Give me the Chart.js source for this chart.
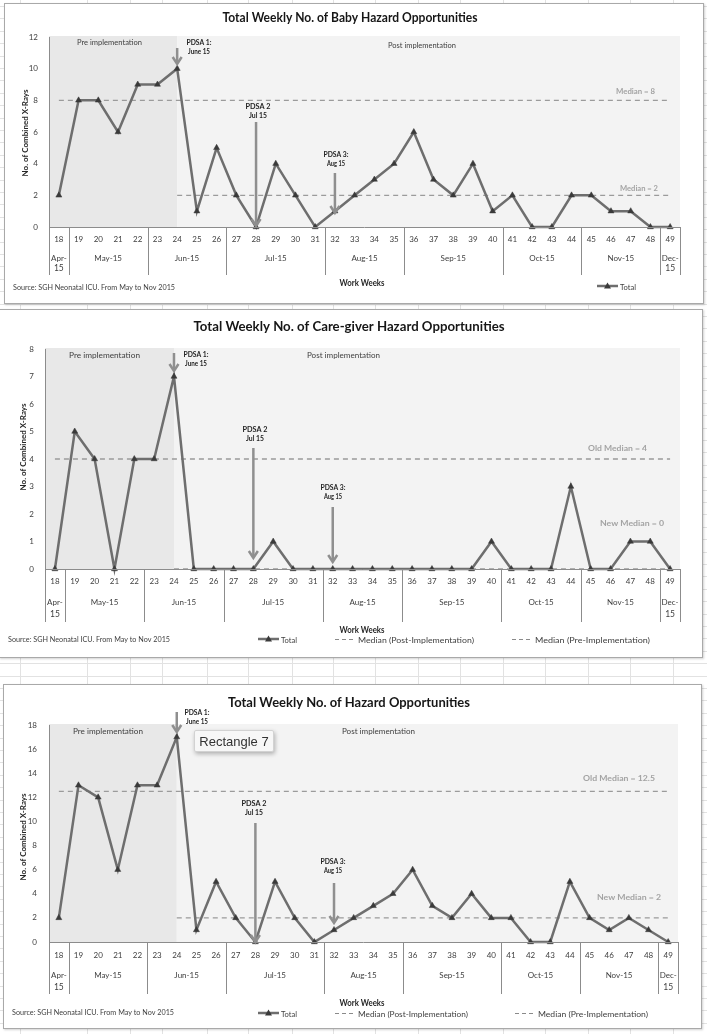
<!DOCTYPE html>
<html>
<head>
<meta charset="utf-8">
<script src="https://cdn.jsdelivr.net/npm/chart.js@4.4.1/dist/chart.umd.min.js"></script>
<style>
    html, body { margin: 0; padding: 0; background: #fff; }
    body { width: 707px; height: 1034px; position: relative; overflow: hidden; font-family: Lato, sans-serif; }
    .gl { position: absolute; background: #e2e2e2; }
    .box { position: absolute; background: #fff; border: 1px solid #a9a9a9; box-shadow: 1px 1px 2px rgba(0,0,0,0.18); }
    canvas.c { position: absolute; left: 0; }
    #rect7 {
        position: absolute; left: 194px; top: 730px; width: 80px; height: 22px;
        background: #f7f7f7; border: 1px solid #d2d2d2; border-radius: 2px;
        box-shadow: 1px 2px 4px rgba(0,0,0,0.28);
        font: 13px "Liberation Sans", Arial, sans-serif; color: #333;
        line-height: 22px; text-align: center; box-sizing: border-box;
    }
</style>
</head>
<body>
<div id="grid"></div>
<div class="box" style="left:4px;top:3px;width:698px;height:299px;"></div>
<div class="box" style="left:-1px;top:309px;width:702px;height:347px;"></div>
<div class="box" style="left:3px;top:684px;width:697px;height:343px;"></div>
<canvas class="c" id="babyChart" width="707" height="303" style="top:0px"></canvas>
<canvas class="c" id="careChart" width="707" height="347" style="top:310px"></canvas>
<canvas class="c" id="hazardChart" width="707" height="343" style="top:685px"></canvas>
<div id="rect7">Rectangle 7</div>

<script>
// ---- data ----
const weeks = ['18','19','20','21','22','23','24','25','26','27','28','29','30','31','32','33',
               '34','35','36','37','38','39','40','41','42','43','44','45','46','47','48','49'];
const monthLabels = ['Apr-15','May-15','Jun-15','Jul-15','Aug-15','Sep-15','Oct-15','Nov-15','Dec-15'];
const monthFirstWeek = ['18','19','23','27','32','36','41','45','49'];

const babyTotal   = [2, 8, 8, 6, 9, 9, 10, 1, 5, 2, 0, 4, 2, 0, 1, 2, 3, 4, 6, 3, 2, 4, 1, 2, 0, 0, 2, 2, 1, 1, 0, 0];
const careTotal   = [0, 5, 4, 0, 4, 4, 7, 0, 0, 0, 0, 1, 0, 0, 0, 0, 0, 0, 0, 0, 0, 0, 1, 0, 0, 0, 3, 0, 0, 1, 1, 0];
const hazardTotal = [2, 13, 12, 6, 13, 13, 17, 1, 5, 2, 0, 5, 2, 0, 1, 2, 3, 4, 6, 3, 2, 4, 2, 2, 0, 0, 5, 2, 1, 2, 1, 0];

// [pre-implementation median, post-implementation median]
const babyMedian   = [8, 2];
const careMedian   = [4, 0];
const hazardMedian = [12.5, 2];
const medianSpanPre  = ['18', '49'];
const medianSpanPost = ['24', '49'];

const babyTicks   = [0, 2, 4, 6, 8, 10, 12];
const careTicks   = [0, 1, 2, 3, 4, 5, 6, 7, 8];
const hazardTicks = [0, 2, 4, 6, 8, 10, 12, 14, 16, 18];

const pdsaWeeks  = ['24', '28', '32'];
const pdsaLabels = [['PDSA 1:', 'June 15'], ['PDSA 2', 'Jul 15'], ['PDSA 3:', 'Aug 15']];
const implementationStart = '24';

// ---- spreadsheet grid behind the charts ----
(function drawGrid() {
    const g = document.getElementById('grid');
    const cols = [20, 87, 130, 162, 207, 248, 292, 333, 375, 418, 460, 503, 545, 588, 630, 673];
    cols.forEach(x => {
        const d = document.createElement('div');
        d.className = 'gl';
        d.style.cssText = `left:${x}px;top:0;width:1px;height:1034px;`;
        g.appendChild(d);
    });
    for (let y = 6; y < 1034; y += 12.4) {
        const d = document.createElement('div');
        d.className = 'gl';
        d.style.cssText = `left:0;top:${Math.round(y)}px;width:707px;height:1px;`;
        g.appendChild(d);
    }
})();

const FONT = 'Lato, "Open Sans", sans-serif';
const TEXT = '#404040';

function txt(ctx, s, x, y, o) {
    ctx.save();
    ctx.font = (o.bold ? 'bold ' : '') + o.size + 'px ' + FONT;
    ctx.fillStyle = o.color || TEXT;
    ctx.textBaseline = 'middle';
    ctx.textAlign = 'left';
    const w = ctx.measureText(s).width;
    const sx = o.w ? o.w / w : 1;
    const dw = w * sx;
    let x0 = x;
    if (o.align === 'center') x0 = x - dw / 2;
    else if (o.align === 'right') x0 = x - dw;
    ctx.translate(x0, y);
    ctx.scale(sx, 1);
    ctx.fillText(s, 0, 0);
    ctx.restore();
}

function vtxt(ctx, s, x, y, o) {
    ctx.save();
    ctx.font = (o.bold ? 'bold ' : '') + o.size + 'px ' + FONT;
    ctx.fillStyle = o.color || TEXT;
    ctx.textBaseline = 'middle';
    ctx.textAlign = 'center';
    const w = ctx.measureText(s).width;
    ctx.translate(x, y);
    ctx.rotate(-Math.PI / 2);
    ctx.scale(o.w ? o.w / w : 1, 1);
    ctx.fillText(s, 0, 0);
    ctx.restore();
}

function arrow(ctx, x, y1, y2) {
    ctx.save();
    ctx.strokeStyle = '#8f8f8f';
    ctx.lineWidth = 2.5;
    ctx.lineCap = 'butt';
    ctx.beginPath();
    ctx.moveTo(x, y1);
    ctx.lineTo(x, y2 - 1);
    ctx.stroke();
    ctx.beginPath();
    ctx.moveTo(x - 4.5, y2 - 7);
    ctx.lineTo(x, y2);
    ctx.lineTo(x + 4.5, y2 - 7);
    ctx.stroke();
    ctx.restore();
}

function legendTotal(ctx, x, y, w) {
    ctx.save();
    ctx.strokeStyle = '#6e6e6e';
    ctx.lineWidth = 2.5;
    ctx.beginPath(); ctx.moveTo(x, y); ctx.lineTo(x + 21, y); ctx.stroke();
    ctx.fillStyle = '#3a3a3a';
    ctx.beginPath(); ctx.moveTo(x + 10.5, y - 3.5); ctx.lineTo(x + 14, y + 2.5); ctx.lineTo(x + 7, y + 2.5); ctx.closePath(); ctx.fill();
    ctx.restore();
    txt(ctx, 'Total', x + 23, y + 1, { size: 8, w: w });
}

function legendDash(ctx, x, y, label, w) {
    ctx.save();
    ctx.strokeStyle = '#8a8a8a';
    ctx.lineWidth = 1;
    ctx.setLineDash([4, 3]);
    ctx.beginPath(); ctx.moveTo(x, y + 0.5); ctx.lineTo(x + 19, y + 0.5); ctx.stroke();
    ctx.restore();
    txt(ctx, label, x + 23, y + 1, { size: 8, w: w });
}

const decorPlugin = {
    id: 'decor',
    beforeDatasetsDraw(chart, args, L) {
        const { ctx, chartArea: a, scales: { x } } = chart;
        const xs = x.getPixelForValue(weeks.indexOf(implementationStart));
        ctx.save();
        ctx.fillStyle = '#e8e8e8';
        ctx.fillRect(a.left, a.top - 1, xs - a.left, a.bottom - a.top + 1);
        ctx.fillStyle = '#f3f3f3';
        ctx.fillRect(xs, a.top - 1, a.right - xs, a.bottom - a.top + 1);
        ctx.restore();
        txt(ctx, 'Pre implementation', L.pre[0], L.pre[1], { size: 7.5, w: L.pre[2] });
        txt(ctx, 'Post implementation', L.post[0], L.post[1], { size: 7.5, w: L.post[2] });
    },
    afterDraw(chart, args, L) {
        const { ctx, chartArea: a, scales: { x } } = chart;
        const step = x.getPixelForValue(1) - x.getPixelForValue(0);

        // axis lines and month separators
        ctx.save();
        ctx.strokeStyle = '#8c8c8c';
        ctx.lineWidth = 1;
        ctx.beginPath();
        ctx.moveTo(Math.round(a.left) + 0.5, a.top);
        ctx.lineTo(Math.round(a.left) + 0.5, L.sepBottom);
        ctx.moveTo(a.left, Math.round(a.bottom) + 0.5);
        ctx.lineTo(a.right, Math.round(a.bottom) + 0.5);
        ctx.moveTo(Math.round(a.right) + 0.5, a.bottom);
        ctx.lineTo(Math.round(a.right) + 0.5, L.sepBottom);
        monthFirstWeek.slice(1).forEach(w => {
            const sx = Math.round(x.getPixelForValue(weeks.indexOf(w)) - step / 2) + 0.5;
            ctx.moveTo(sx, a.bottom);
            ctx.lineTo(sx, L.sepBottom);
        });
        ctx.stroke();
        ctx.restore();

        // week numbers
        weeks.forEach((w, i) => {
            txt(ctx, w, x.getPixelForValue(i), L.weekY, { size: 8, align: 'center' });
        });
        // month labels
        monthLabels.forEach((m, i) => {
            const first = weeks.indexOf(monthFirstWeek[i]);
            const last = i + 1 < monthFirstWeek.length ? weeks.indexOf(monthFirstWeek[i + 1]) - 1 : weeks.length - 1;
            const cx = (x.getPixelForValue(first) + x.getPixelForValue(last)) / 2;
            if (first === last) {
                const parts = m.split('-');
                txt(ctx, parts[0] + '-', cx, L.monthY, { size: 8, align: 'center' });
                txt(ctx, parts[1], cx, L.month2Y, { size: 8.5, align: 'center' });
            } else {
                txt(ctx, m, cx, L.monthY, { size: 8, align: 'center' });
            }
        });

        // title, axis titles, source
        txt(ctx, L.title, L.titleX, L.titleY, { size: 14, bold: true, color: '#161616', align: 'center', w: L.titleW });
        vtxt(ctx, 'No. of Combined X-Rays', L.yTitleX, L.yTitleY, { size: 8, bold: true, color: '#262626', w: 87 });
        txt(ctx, 'Work Weeks', 362, L.workY, { size: 8.5, bold: true, color: '#262626', align: 'center', w: 45 });
        txt(ctx, 'Source: SGH Neonatal ICU. From May to Nov 2015', L.srcX, L.srcY, { size: 8, w: 162 });

        // median labels
        L.medLabels.forEach(m => txt(ctx, m[0], m[1], m[2], { size: 8, bold: true, color: '#a3a3a3', align: 'right', w: m[3] }));

        // PDSA arrows and labels
        pdsaWeeks.forEach((w, i) => {
            const ax = x.getPixelForValue(weeks.indexOf(w));
            const p = L.pdsa[i];
            arrow(ctx, ax, p.y1, p.y2);
            txt(ctx, pdsaLabels[i][0], p.lx, p.ly, { size: 6.5, bold: true, color: '#1e1e1e', align: 'center', w: 25 });
            txt(ctx, pdsaLabels[i][1], p.lx, p.ly + 9, { size: 6.5, bold: true, color: '#1e1e1e', align: 'center', w: pdsaLabels[i][1].length > 6 ? 22 : 18 });
        });

        // legend
        legendTotal(ctx, L.legend.total, L.legendY, 16);
        if (L.legend.post) {
            legendDash(ctx, L.legend.post[0], L.legendY, 'Median (Post-Implementation)', L.legend.post[1]);
            legendDash(ctx, L.legend.pre[0], L.legendY, 'Median (Pre-Implementation)', L.legend.pre[1]);
        }
    }
};

function makeChart(id, total, median, ticks, L) {
    const canvas = document.getElementById(id);
    const H = canvas.height;
    return new Chart(canvas, {
        type: 'line',
        data: {
            labels: weeks,
            datasets: [
                {
                    label: 'Total',
                    data: total,
                    borderColor: '#6e6e6e',
                    borderWidth: 2.5,
                    pointStyle: 'triangle',
                    pointRadius: 3.5,
                    pointBackgroundColor: '#3a3a3a',
                    pointBorderColor: '#3a3a3a',
                    pointBorderWidth: 0.5,
                    tension: 0,
                    clip: false
                },
                {
                    label: 'Median (Post-Implementation)',
                    data: [{ x: medianSpanPost[0], y: median[1] }, { x: medianSpanPost[1], y: median[1] }],
                    borderColor: '#9b9b9b',
                    borderWidth: 1.3,
                    borderDash: [5, 4],
                    pointRadius: 0,
                    clip: false
                },
                {
                    label: 'Median (Pre-Implementation)',
                    data: [{ x: medianSpanPre[0], y: median[0] }, { x: medianSpanPre[1], y: median[0] }],
                    borderColor: '#9b9b9b',
                    borderWidth: 1.3,
                    borderDash: [5, 4],
                    pointRadius: 0,
                    clip: false
                }
            ]
        },
        options: {
            responsive: false,
            animation: false,
            events: [],
            layout: {
                padding: { left: 0, top: L.plotTop, right: 707 - L.plotRight, bottom: H - L.plotBottom }
            },
            plugins: {
                legend: { display: false },
                title: { display: false },
                tooltip: { enabled: false },
                decor: L
            },
            scales: {
                x: {
                    type: 'category',
                    offset: true,
                    grid: { display: false },
                    border: { display: false },
                    ticks: { display: false },
                    afterFit: s => { s.height = 0; }
                },
                y: {
                    min: ticks[0],
                    max: ticks[ticks.length - 1],
                    grid: { display: false, drawTicks: false },
                    border: { display: false },
                    ticks: {
                        padding: L.tickPad,
                        color: TEXT,
                        font: { family: FONT, size: 8 }
                    },
                    afterBuildTicks: s => { s.ticks = ticks.map(v => ({ value: v })); },
                    afterFit: s => { s.width = L.plotLeft; }
                }
            }
        },
        plugins: [decorPlugin]
    });
}

makeChart('babyChart', babyTotal, babyMedian, babyTicks, {
    plotLeft: 49, plotRight: 680, plotTop: 37, plotBottom: 227, tickPad: 11,
    sepBottom: 275, weekY: 239, monthY: 258, month2Y: 268, workY: 283,
    title: 'Total Weekly No. of Baby Hazard Opportunities', titleX: 350, titleY: 17, titleW: 255,
    yTitleX: 25, yTitleY: 133, srcX: 13, srcY: 287,
    pre: [77, 43, 65], post: [388, 46, 68],
    medLabels: [['Median = 8', 655, 91, 39], ['Median = 2', 658, 188, 38]],
    pdsa: [
        { y1: 48, y2: 64, lx: 199, ly: 43 },
        { y1: 122, y2: 226, lx: 258, ly: 107 },
        { y1: 173, y2: 213, lx: 336, ly: 155 }
    ],
    legendY: 286, legend: { total: 597 }
});

makeChart('careChart', careTotal, careMedian, careTicks, {
    plotLeft: 45, plotRight: 680, plotTop: 39, plotBottom: 259, tickPad: 11,
    sepBottom: 312, weekY: 271, monthY: 292, month2Y: 304, workY: 320,
    title: 'Total Weekly No. of Care-giver Hazard Opportunities', titleX: 349, titleY: 16, titleW: 311,
    yTitleX: 23, yTitleY: 137, srcX: 8, srcY: 329,
    pre: [69, 46, 71], post: [307, 46, 73],
    medLabels: [['Old Median = 4', 647, 138, 59], ['New Median = 0', 664, 213, 64]],
    pdsa: [
        { y1: 43, y2: 61, lx: 196, ly: 45 },
        { y1: 138, y2: 248, lx: 255, ly: 120 },
        { y1: 197, y2: 252, lx: 333, ly: 178 }
    ],
    legendY: 329, legend: { total: 258, post: [335, 116], pre: [512, 115] }
});

makeChart('hazardChart', hazardTotal, hazardMedian, hazardTicks, {
    plotLeft: 49, plotRight: 678, plotTop: 40, plotBottom: 257, tickPad: 12,
    sepBottom: 309, weekY: 270, monthY: 290, month2Y: 302, workY: 318,
    title: 'Total Weekly No. of Hazard Opportunities', titleX: 349, titleY: 17, titleW: 242,
    yTitleX: 23, yTitleY: 152, srcX: 12, srcY: 327,
    pre: [73, 47, 70], post: [342, 47, 73],
    medLabels: [['Old Median = 12.5', 655, 93, 72], ['New Median = 2', 661, 212, 64]],
    pdsa: [
        { y1: 27, y2: 47, lx: 197, ly: 28 },
        { y1: 138, y2: 257, lx: 254, ly: 119 },
        { y1: 198, y2: 238, lx: 333, ly: 177 }
    ],
    legendY: 328, legend: { total: 258, post: [335, 110], pre: [515, 110] }
});
</script>
</body>
</html>
